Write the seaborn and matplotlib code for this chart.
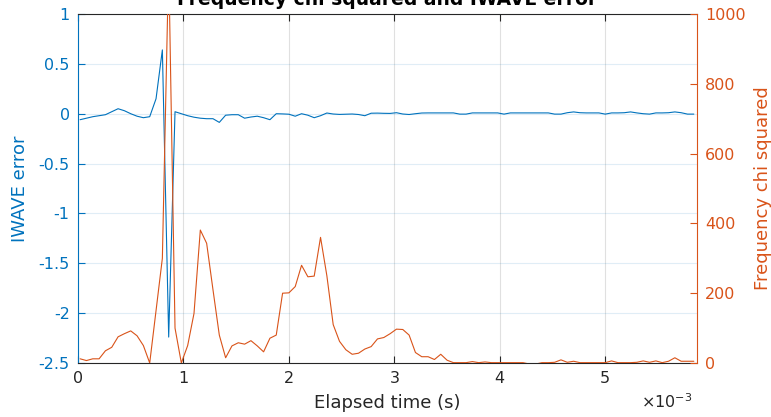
import numpy as np
import pandas as pd
import seaborn as sns
import matplotlib
matplotlib.use("Agg")
import matplotlib.pyplot as plt
from matplotlib.ticker import FuncFormatter

# Sampling grid of the estimator (seconds)
t_start = 0.02e-3
t_step = 0.06e-3

# IWAVE error (left axis)
iwave_error = [
    -0.06, -0.045, -0.03, -0.02, -0.01, 0.02, 0.05, 0.03, 0.0, -0.025,
    -0.04, -0.03, 0.15, 0.64, -2.24, 0.02, 0.0, -0.02, -0.035, -0.045,
    -0.05, -0.05, -0.087, -0.015, -0.01, -0.01, -0.045, -0.033, -0.025, -0.04,
    -0.06, 0.0, -0.002, -0.005, -0.025, 0.0, -0.015, -0.04, -0.02, 0.007,
    -0.003, -0.007, -0.005, -0.003, -0.008, -0.02, 0.005, 0.006, 0.004, 0.003,
    0.01, -0.003, -0.008, 0.0, 0.007, 0.008, 0.008, 0.008, 0.008, 0.008,
    -0.004, -0.004, 0.008, 0.008, 0.008, 0.008, 0.008, -0.004, 0.008, 0.008,
    0.008, 0.008, 0.008, 0.008, 0.008, -0.004, -0.004, 0.01, 0.018, 0.01,
    0.008, 0.008, 0.008, -0.004, 0.008, 0.008, 0.01, 0.018, 0.008, 0.0,
    -0.004, 0.008, 0.008, 0.01, 0.018, 0.01, -0.004, -0.004,
]

# Frequency chi squared (right axis)
freq_chi2 = [
    12, 7, 12, 12, 35, 45, 75, 84, 92, 78,
    50, 0, 150, 300, 1150, 100, 0, 50, 142, 381,
    343, 210, 80, 15, 49, 58, 54, 64, 49, 32,
    71, 80, 200, 201, 219, 280, 247, 249, 360, 250,
    110, 62, 38, 25, 28, 40, 47, 69, 73, 84,
    97, 96, 80, 30, 18, 18, 10, 25, 8, 1,
    1, 1, 4, 1, 3, 1, 1, 1, 1, 1,
    1, -3, -3, 1, 1, 2, 9, 2, 5, 1,
    1, 1, 1, 1, 6, 1, 1, 1, 2, 6,
    2, 6, 1, 5, 15, 5, 5, 5,
]

time_s = t_start + t_step * np.arange(len(freq_chi2))

df = pd.DataFrame({"time": time_s, "iwave": iwave_error, "chi2": freq_chi2})

x_ticks = [0, 1e-3, 2e-3, 3e-3, 4e-3, 5e-3]
left_ticks = [-2.5, -2, -1.5, -1, -0.5, 0, 0.5, 1]
right_ticks = [0, 200, 400, 600, 800, 1000]

BLUE = "#0072BD"
ORANGE = "#D95319"
DARK = "#262626"

sns.set_theme(style="white")
plt.rcParams["font.family"] = ["DejaVu Sans"]
plt.rcParams["axes.unicode_minus"] = False

fig = plt.figure(figsize=(7.71, 4.17), dpi=100)
ax = fig.add_axes([78 / 771, 1 - 363 / 417, 619 / 771, 349 / 417])
ax2 = ax.twinx()

sns.lineplot(data=df, x="time", y="iwave", ax=ax, color=BLUE, lw=0.8,
             estimator=None, sort=False)
sns.lineplot(data=df, x="time", y="chi2", ax=ax2, color=ORANGE, lw=0.8,
             estimator=None, sort=False)

ax.set_xlim(0, 5.87e-3)
ax.set_ylim(-2.5, 1)
ax2.set_ylim(0, 1000)
ax.set_xticks(x_ticks)
ax.set_yticks(left_ticks)
ax2.set_yticks(right_ticks)
ax.xaxis.set_major_formatter(FuncFormatter(lambda v, p: f"{v * 1e3:g}"))
ax.yaxis.set_major_formatter(FuncFormatter(lambda v, p: f"{v:g}"))
ax2.yaxis.set_major_formatter(FuncFormatter(lambda v, p: f"{v:g}"))

# grid: horizontal lines follow the left axis colour
ax.grid(axis="y", color=BLUE, alpha=0.12, lw=0.8)
ax.grid(axis="x", color=DARK, alpha=0.14, lw=0.8)
ax.set_axisbelow(True)

# spines
for s in ("top", "bottom"):
    ax.spines[s].set_color(DARK)
    ax.spines[s].set_linewidth(0.8)
ax.spines["left"].set_color(BLUE)
ax.spines["left"].set_linewidth(0.8)
ax.spines["right"].set_visible(False)
for s in ("top", "bottom", "left"):
    ax2.spines[s].set_visible(False)
ax2.spines["right"].set_color(ORANGE)
ax2.spines["right"].set_linewidth(0.8)

ax.tick_params(axis="x", direction="in", colors=DARK, length=5, width=0.8,
               labelsize=11.5, pad=6, bottom=True, top=True)
ax.tick_params(axis="y", direction="in", colors=BLUE, length=5, width=0.8,
               labelsize=11.5, pad=6, left=True, right=False)
ax2.tick_params(axis="y", direction="in", colors=ORANGE, length=5, width=0.8,
                labelsize=11.5, pad=6, right=True, left=False)

ax.set_xlabel("Elapsed time (s)", fontsize=13, color=DARK, va="center")
ax.xaxis.set_label_coords(0.5, -0.115)
ax.set_ylabel("IWAVE error", fontsize=13, color=BLUE, va="center")
ax.yaxis.set_label_coords(-0.094, 0.5)
ax2.set_ylabel("Frequency chi squared", fontsize=13, color=ORANGE, va="center",
               rotation=90)
ax2.yaxis.set_label_coords(1.107, 0.5)

fig.text(692 / 771, 1 - 402 / 417, r"$\times10^{-3}$", ha="right", va="center",
         fontsize=11.5, color=DARK)

fig.text(387 / 771, 1 - 5 / 417, "Frequency chi squared and IWAVE error",
         ha="center", va="baseline", fontsize=13.5, fontweight="bold",
         color="black")

fig.savefig("out.png", dpi=100)
